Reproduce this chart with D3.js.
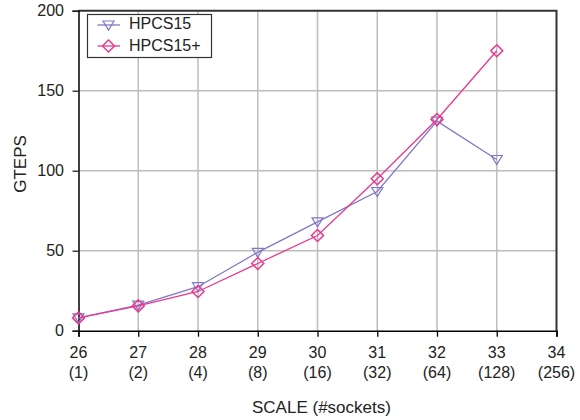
<!DOCTYPE html>
<html>
<head>
<meta charset="utf-8">
<script src="https://cdn.jsdelivr.net/npm/d3@7"></script>
<style>
  html, body { margin: 0; padding: 0; background: #fff; }
  svg { display: block; font-family: "Liberation Sans", Arial, sans-serif; }
</style>
</head>
<body>
<div id="chart"></div>
<script>
// SCALE values on the x axis and the matching socket counts
const scales = [26, 27, 28, 29, 30, 31, 32, 33, 34];
const sockets = ["(1)", "(2)", "(4)", "(8)", "(16)", "(32)", "(64)", "(128)", "(256)"];
const yTicks = [0, 50, 100, 150, 200];

// GTEPS per SCALE for each implementation
const hpcs15Scale = [26, 27, 28, 29, 30, 31, 32, 33];
const hpcs15 = [8, 16, 27.5, 49, 68, 87, 131, 107];
const hpcs15pScale = [26, 27, 28, 29, 30, 31, 32, 33];
const hpcs15p = [8, 15.5, 24.5, 42, 59.5, 95, 132, 175];

const W = 580, H = 420;
const x = d3.scaleLinear().domain([26, 34]).range([78.5, 556.5]);
const y = d3.scaleLinear().domain([0, 200]).range([330.7, 10.7]);

const svg = d3.select("#chart").append("svg").attr("width", W).attr("height", H);

// grid
svg.append("g").selectAll("line").data(scales.slice(1, -1)).join("line")
  .attr("x1", d => x(d)).attr("x2", d => x(d))
  .attr("y1", y(200)).attr("y2", y(0))
  .attr("stroke", "#bdbdbd").attr("stroke-width", 1.5);
svg.append("g").selectAll("line").data(yTicks.slice(1, -1)).join("line")
  .attr("x1", x(26)).attr("x2", x(34))
  .attr("y1", d => y(d)).attr("y2", d => y(d))
  .attr("stroke", "#bdbdbd").attr("stroke-width", 1.5);

// frame: top and right in dark gray
svg.append("path")
  .attr("d", `M${x(26)},${y(200)}H${x(34)}V${y(0)}`)
  .attr("fill", "none").attr("stroke", "#333").attr("stroke-width", 2);

// axes
const xAxis = svg.append("g").attr("transform", `translate(0,${y(0)})`)
  .call(d3.axisBottom(x).tickValues(scales).tickSize(6).tickFormat(""));
xAxis.select(".domain").attr("stroke", "#000").attr("stroke-width", 1.5);
xAxis.selectAll(".tick line").attr("stroke", "#000").attr("stroke-width", 1.3);

const yAxis = svg.append("g").attr("transform", `translate(${x(26)},0)`)
  .call(d3.axisLeft(y).tickValues(yTicks).tickSize(6).tickPadding(8.5));
yAxis.select(".domain").attr("stroke", "#000").attr("stroke-width", 1.5);
yAxis.selectAll(".tick line").attr("stroke", "#222").attr("stroke-width", 1.3);
yAxis.selectAll(".tick text").attr("font-size", 16).attr("fill", "#222")
  .attr("font-family", "'Liberation Sans', Arial, sans-serif").attr("dy", "0.28em");

// two-line x tick labels
const xl = svg.append("g").attr("font-size", 16).attr("fill", "#222").attr("text-anchor", "middle");
scales.forEach((s, i) => {
  xl.append("text").attr("x", x(s)).attr("y", 357.5).attr("fill", "#222").text(s);
  xl.append("text").attr("x", x(s)).attr("y", 377.5).attr("fill", "#222").text(sockets[i]);
});

// axis titles
svg.append("text").attr("x", 252).attr("y", 413).attr("text-anchor", "start")
  .attr("font-size", 17).attr("fill", "#222").text("SCALE (#sockets)");
svg.append("text").attr("transform", `translate(25.5,164) rotate(-90)`)
  .attr("text-anchor", "middle").attr("font-size", 17).attr("fill", "#222").text("GTEPS");

const purple = "#8078c6", pink = "#e8388f";
const line = d3.line().x(d => x(d[0])).y(d => y(d[1]));

const tri = (g, cx, cy, c) => g.append("path")
  .attr("d", `M${cx - 5.5},${cy - 4}L${cx + 5.5},${cy - 4}L${cx},${cy + 5}Z`)
  .attr("fill", "none").attr("stroke", c).attr("stroke-width", 1.2);
const dia = (g, cx, cy, c) => g.append("path")
  .attr("d", `M${cx},${cy - 6}L${cx + 6},${cy}L${cx},${cy + 6}L${cx - 6},${cy}Z`)
  .attr("fill", "none").attr("stroke", c).attr("stroke-width", 1.5);

// HPCS15 series
const s1 = hpcs15Scale.map((s, i) => [s, hpcs15[i]]);
svg.append("path").attr("d", line(s1)).attr("fill", "none").attr("stroke", purple).attr("stroke-width", 1.3);
const m1 = svg.append("g");
s1.forEach(d => tri(m1, x(d[0]), y(d[1]), purple));

// HPCS15+ series
const s2 = hpcs15pScale.map((s, i) => [s, hpcs15p[i]]);
svg.append("path").attr("d", line(s2)).attr("fill", "none").attr("stroke", pink).attr("stroke-width", 1.3);
const m2 = svg.append("g");
s2.forEach(d => dia(m2, x(d[0]), y(d[1]), pink));

// legend
const lg = svg.append("g");
lg.append("rect").attr("x", 87.5).attr("y", 14.5).attr("width", 124).attr("height", 43)
  .attr("fill", "#fff").attr("stroke", "#333").attr("stroke-width", 1.2);
[["HPCS15", purple, tri, 25, 29.3], ["HPCS15+", pink, dia, 46, 50.7]].forEach(e => {
  const cy = e[3];
  lg.append("line").attr("x1", 97.5).attr("x2", 120).attr("y1", cy).attr("y2", cy)
    .attr("stroke", e[1]).attr("stroke-width", 1.3);
  e[2](lg, 108.5, cy, e[1]);
  lg.append("text").attr("x", 129).attr("y", e[4]).attr("font-size", 16)
    .attr("fill", "#222").text(e[0]);
});
</script>
</body>
</html>
